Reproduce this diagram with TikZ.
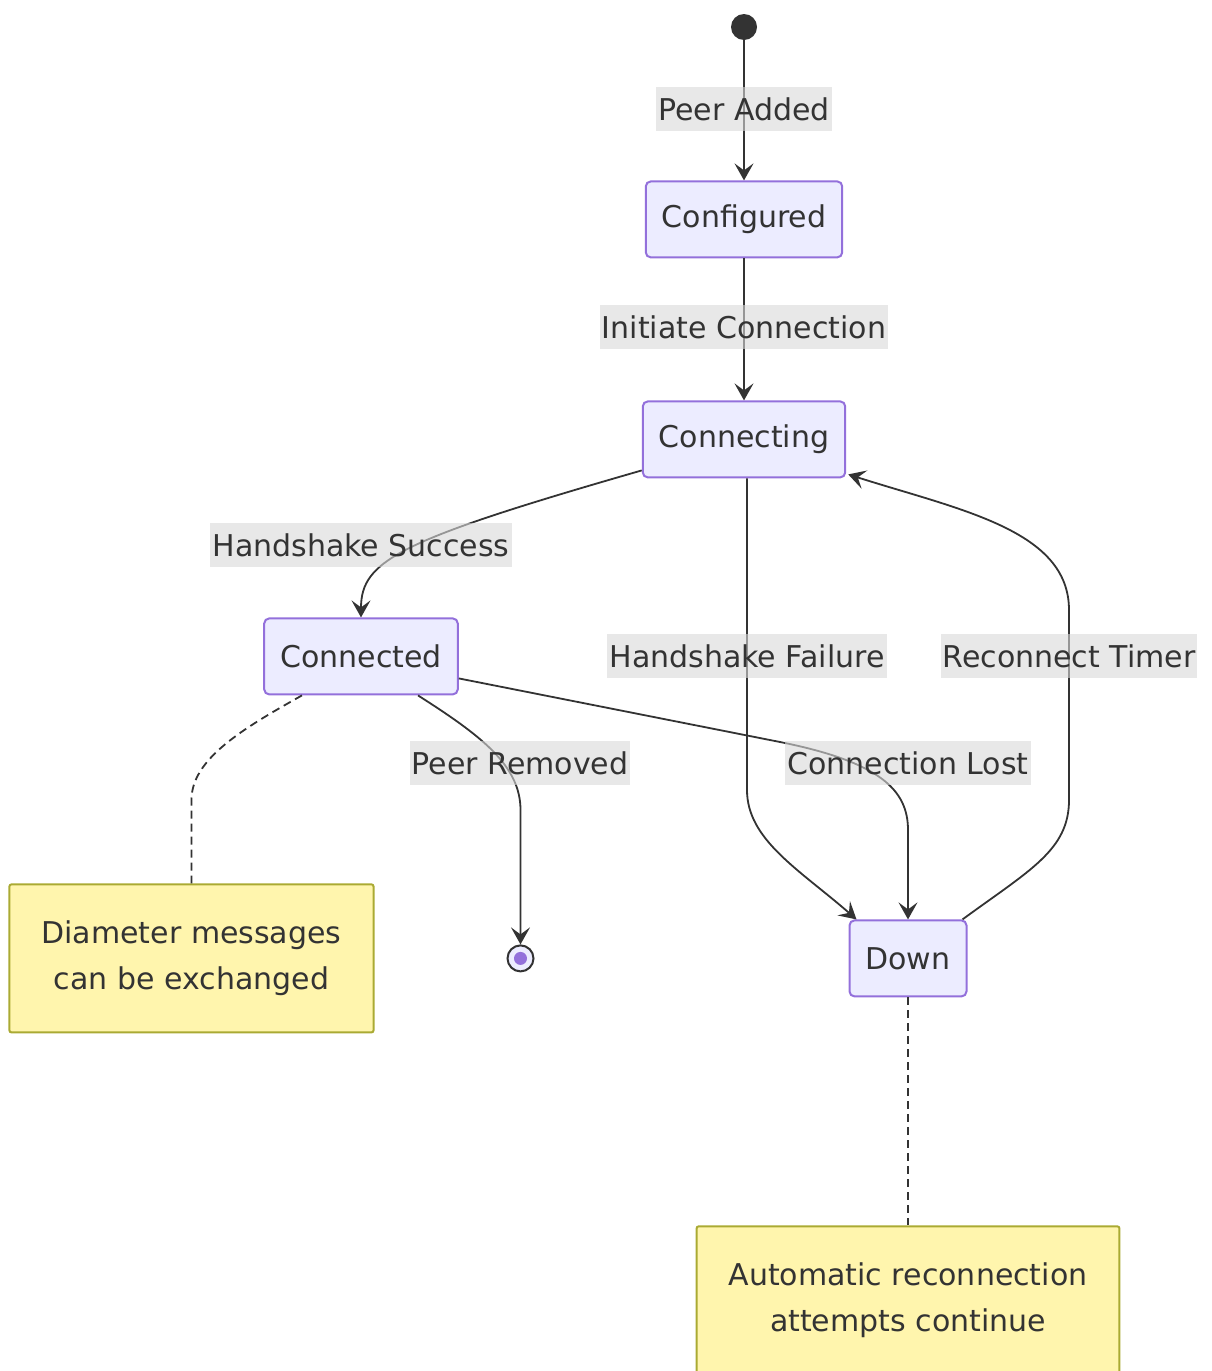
\documentclass[tikz,border=0pt]{standalone}
\usepackage{fontspec}
\setmainfont{DejaVu Sans}
\usetikzlibrary{positioning,arrows.meta,calc}
\definecolor{stfill}{HTML}{ECECFF}
\definecolor{stborder}{HTML}{9370DB}
\definecolor{ntfill}{HTML}{FFF5AD}
\definecolor{ntborder}{HTML}{AAAA33}
\definecolor{lblgray}{HTML}{D9D9D9}
\definecolor{linegray}{HTML}{333333}
\definecolor{txtgray}{HTML}{333333}

\begin{document}
\begin{tikzpicture}[
		x=0.5pt, y=-0.5pt,
		every node/.style={font=\fontsize{15}{23}\selectfont, align=center, text=txtgray},
		>={Stealth[length=8.5pt,width=9.5pt,inset=3.5pt]},
		state/.style={draw=stborder, fill=stfill, line width=1pt, rounded corners=2.5pt,
			minimum height=38pt, inner xsep=8pt},
		note/.style={draw=ntborder, fill=ntfill, line width=1pt, rounded corners=1pt,
			minimum height=74pt, inner xsep=16pt},
		lbl/.style={fill=lblgray, fill opacity=0.6, text opacity=1,
			inner xsep=1pt, inner ysep=0pt, minimum height=22pt},
		tr/.style={->, draw=linegray, line width=0.9pt},
		link/.style={draw=linegray, line width=0.9pt, dash pattern=on 4pt off 2.5pt}
		]
		\useasboundingbox (0,0) rectangle (1211,1371);
		
		% Начальное состояние
		\node[circle, fill=linegray, minimum size=13pt, inner sep=0pt] (start) at (744,27) {};
		
		% Состояния соединения
		\node[state, below=70pt of start] (conf) {Configured};
		\node[state, below=71pt of conf] (cing) {Connecting};
		\node[state, below=69.5pt of cing, xshift=-191.5pt] (conn) {Connected};
		\node[state, below=220.5pt of cing, xshift=82pt] (down) {Down};
		
		% Конечное состояние
		\node[circle, draw=linegray, line width=1pt, fill=stfill, minimum size=13pt, inner sep=0pt,
			left=157pt of down] (end) {};
		\fill[stborder] (end) circle (3.25pt);
		
		% Заметки
		\node[note, left=66pt of end] (note1) {Diameter messages\\can be exchanged};
		\node[note, below=114pt of down] (note2) {Automatic reconnection\\attempts continue};
		
		% Рисуем переходы
		\draw[tr] (start) -- (conf);
		\draw[tr] (conf) -- (cing);
		\draw[tr] ([yshift=4pt]cing.south west) .. controls (400,540) and (361,560) .. (conn.north);
		\draw[tr] ([xshift=1.5pt]cing.south) -- (747,790)
			.. controls (747,840) and (800,870) .. ([xshift=4pt]down.north west);
		\draw[tr] ([xshift=28.5pt]conn.south) .. controls (480,735) and (end.north |- 0,765)
			.. (end.north |- 0,810) -- (end.north);
		\draw[tr] ([yshift=-11pt]conn.east) -- (780,742)
			.. controls (880,762) and (908,790) .. (908,830) -- (down.north);
		\draw[tr] ([xshift=-2.5pt]down.north east) .. controls (1030,870) and (1069,850) .. (1069,800)
			-- (1069,610) .. controls (1069,530) and (960,510) .. ([xshift=1pt,yshift=2pt]cing.south east);
		
		% Пунктир к заметкам
		\draw[link] ([xshift=-29.5pt]conn.south) .. controls (240,730) and (note1.north |- 0,760)
			.. (note1.north |- 0,800) -- (note1.north);
		\draw[link] (down) -- (note2);
		
		% Подписи переходов
		\node[lbl] (lpa) at (744,109) {Peer Added};
		\node[lbl] (lic) at (744,327) {Initiate Connection};
		\node[lbl] (lhs) at (361,545) {Handshake Success};
		\node[lbl] (lhf) at (747,656) {Handshake Failure};
		\node[lbl] (lrt) at (1069,656) {Reconnect Timer};
		\node[lbl] (lpr) at (520,763) {Peer Removed};
		\node[lbl] (lcl) at (908,763) {Connection Lost};
	\end{tikzpicture}
\end{document}
